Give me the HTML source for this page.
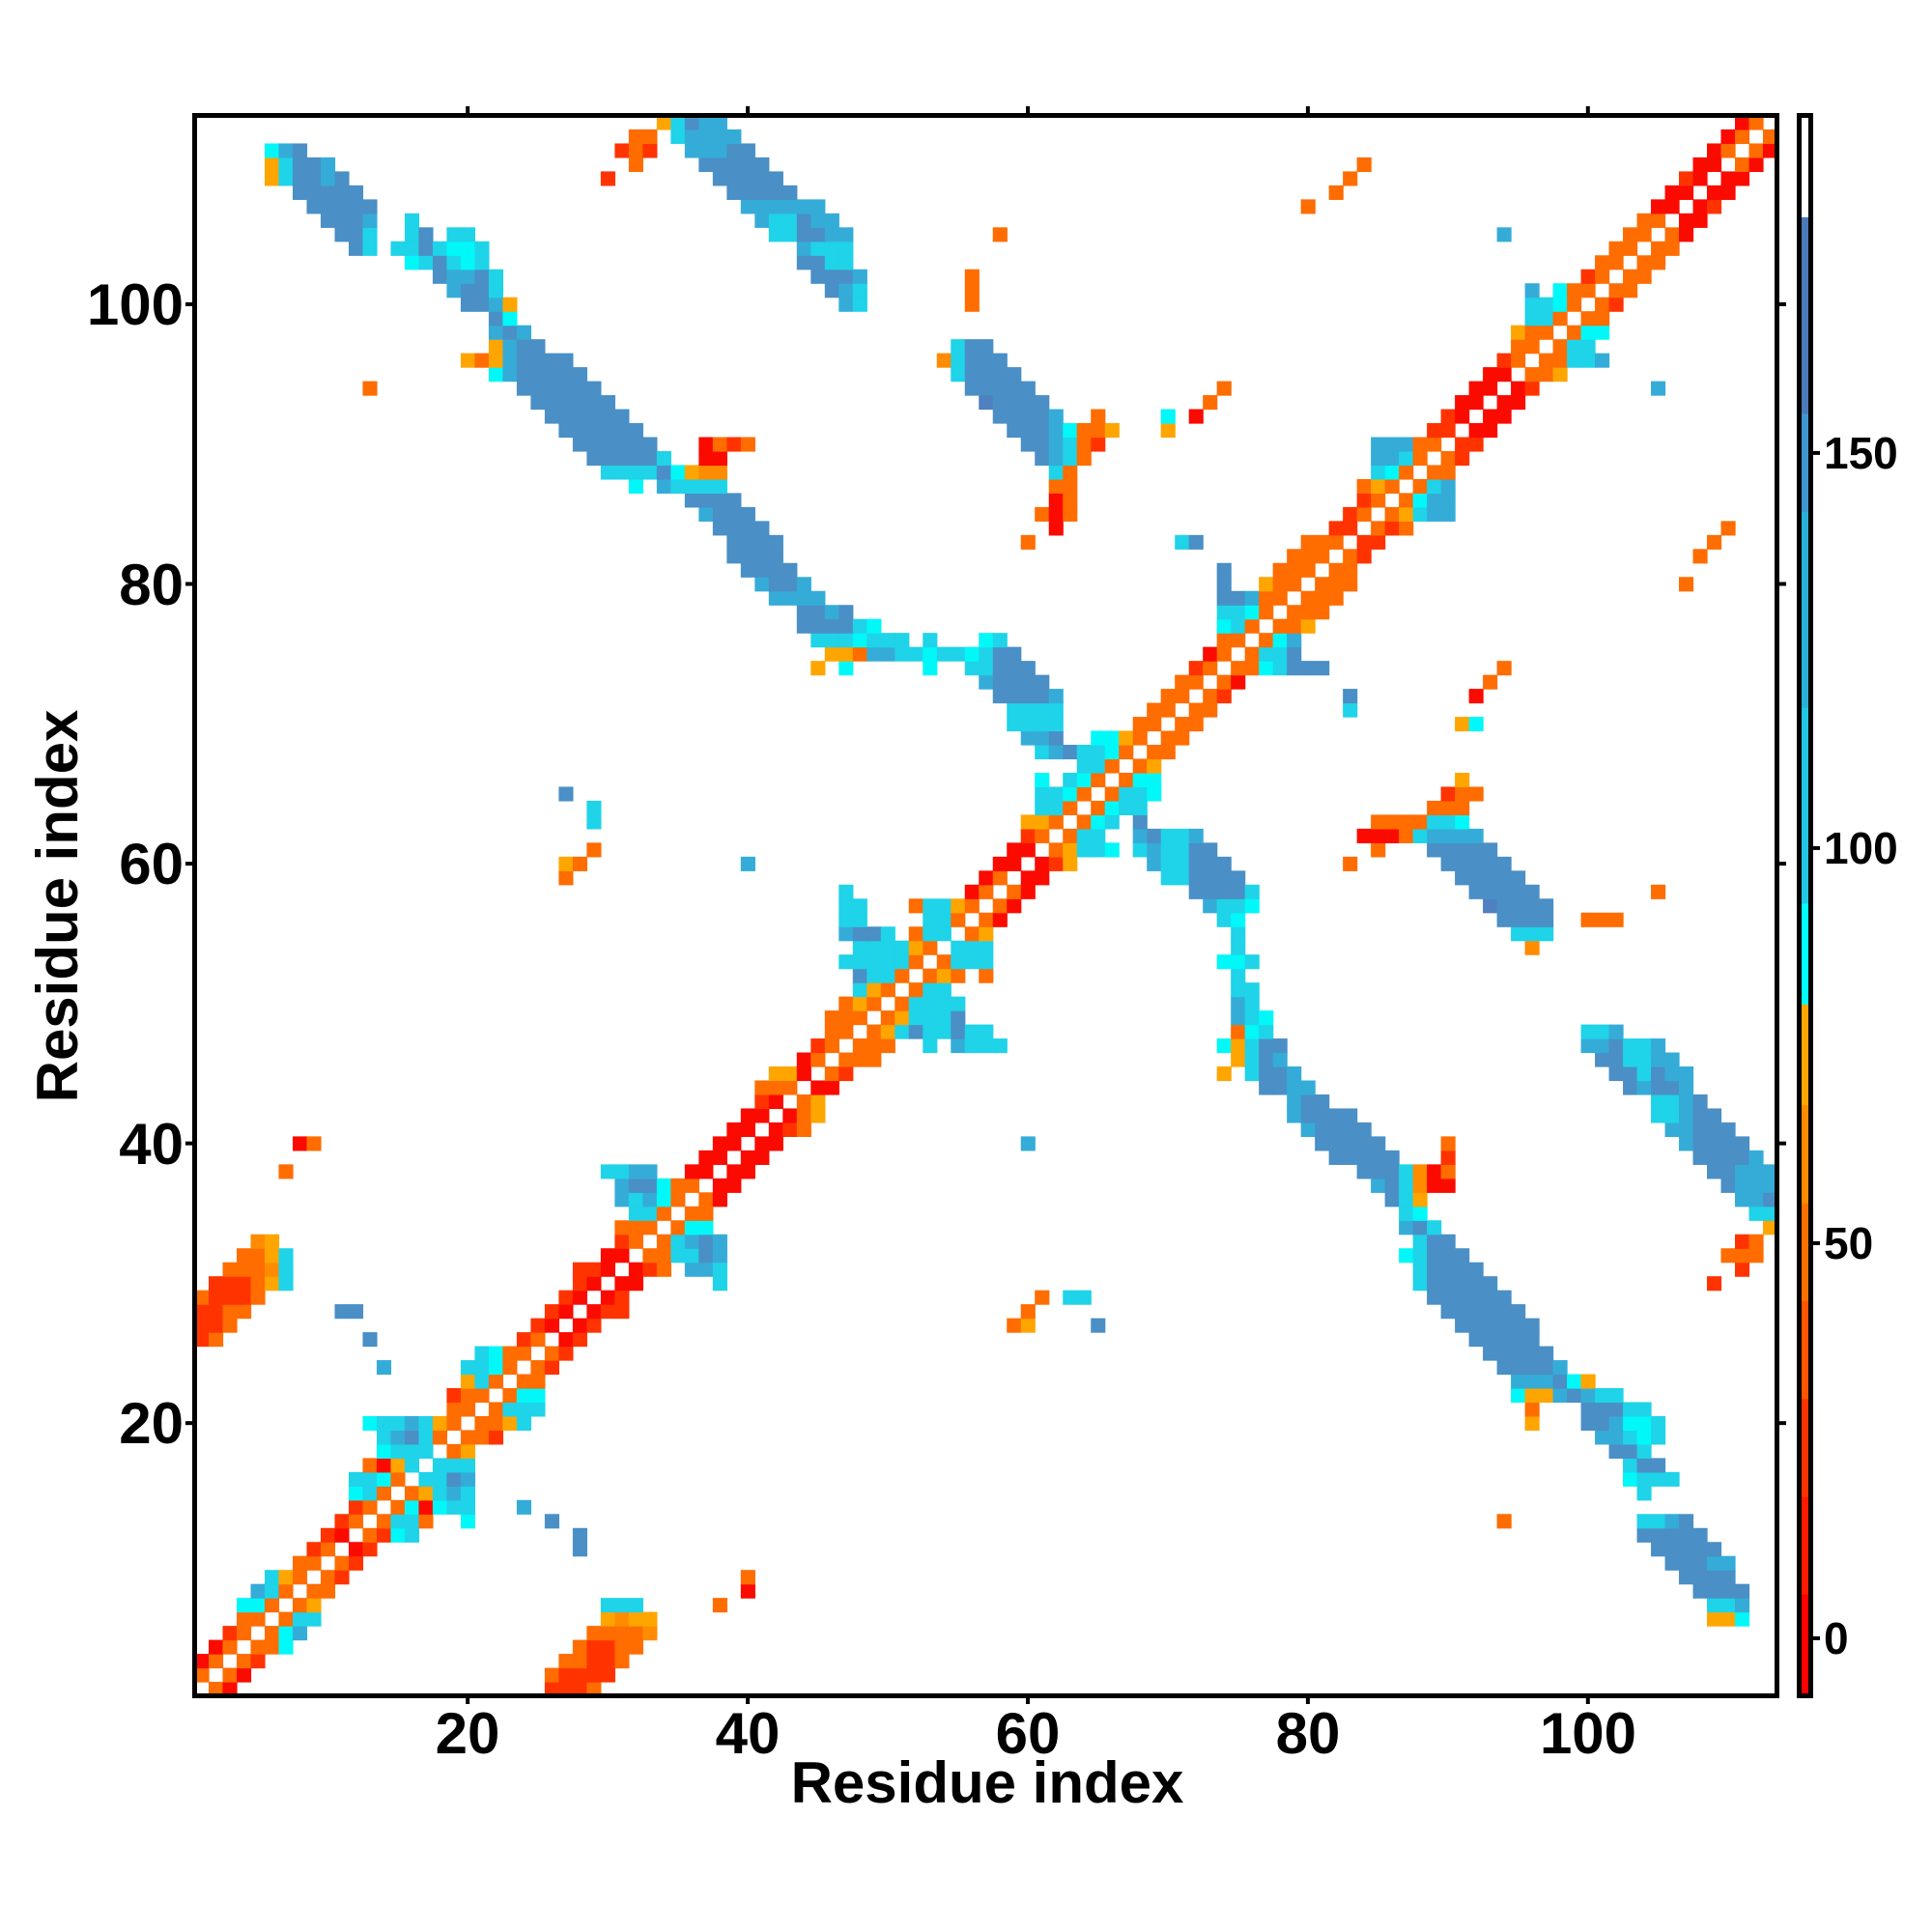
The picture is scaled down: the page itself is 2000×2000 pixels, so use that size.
<!DOCTYPE html>
<html><head><meta charset="utf-8"><style>
html,body{margin:0;padding:0;background:#fff;}
svg{display:block;}
text{font-family:"Liberation Sans",Arial,sans-serif;font-weight:bold;fill:#000;}
</style></head><body>
<svg id="s" width="2000" height="2000" viewBox="0 0 2000 2000" xmlns="http://www.w3.org/2000/svg">
<rect x="0" y="0" width="2000" height="2000" fill="#fff"/>
<g id="cells"></g>
<g id="cbar"></g>
<rect x="1862.5" y="119.5" width="12" height="1636" fill="none" stroke="#000" stroke-width="5"/>
<g stroke="#000" stroke-width="4">
<line x1="1874" y1="1695.9" x2="1884" y2="1695.9"/>
<line x1="1874" y1="1286.9" x2="1884" y2="1286.9"/>
<line x1="1874" y1="877.9" x2="1884" y2="877.9"/>
<line x1="1874" y1="468.9" x2="1884" y2="468.9"/>
</g>
<g font-size="46">
<text x="1888" y="1712">0</text>
<text x="1888" y="1303">50</text>
<text x="1888" y="894">100</text>
<text x="1888" y="485">150</text>
</g>
<rect x="201.5" y="119.5" width="1638" height="1636" fill="none" stroke="#000" stroke-width="5"/>
<g id="ticks" stroke="#000" stroke-width="4"></g>
<g font-size="60" text-anchor="middle">
<text x="484" y="1815">20</text>
<text x="774" y="1815">40</text>
<text x="1064" y="1815">60</text>
<text x="1354" y="1815">80</text>
<text x="1644" y="1815">100</text>
</g>
<g font-size="60" text-anchor="end">
<text x="190" y="1494">20</text>
<text x="190" y="1205">40</text>
<text x="190" y="915">60</text>
<text x="190" y="626">80</text>
<text x="190" y="336">100</text>
</g>
<text x="1022" y="1866" font-size="60" text-anchor="middle">Residue index</text>
<text x="0" y="0" font-size="60" text-anchor="middle" transform="translate(80,938) rotate(-90)">Residue index</text>
</svg>
<script>
var col={R:"#fb0a00",r:"#ff3300",o:"#ff6c00",O:"#ff8c00",Y:"#ffa500",C:"#00f8f8",c:"#1fd3e8",b:"#35acd8",B:"#4a8fc5",D:"#4f80c0"};
var rows={
2:"1:o",3:"1:R 2:o",4:"2:R 3:o",5:"3:r 4:o",6:"4:o 5:o",7:"4:C 5:C 6:o",8:"5:b 6:c 7:o",9:"6:c 7:Y 8:o",
10:"8:o 9:o",11:"9:r 10:o",12:"10:r 11:R",13:"11:r 12:o",14:"12:r 13:o",15:"12:C 13:c 14:o",16:"12:c 13:c 14:C 15:o",
17:"13:o 14:R 15:Y 16:c",18:"14:C 15:c 16:c 17:c",19:"14:c 15:b 16:B 17:c 18:o",20:"13:C 14:c 15:c 16:b 17:c 18:Y 19:o",
21:"19:o 20:o",22:"19:r 20:o 21:o",23:"20:Y 21:c 22:o",24:"14:b 20:c 21:c 22:C 23:o",25:"21:c 22:C 23:o 24:o",
26:"1:r 2:o 13:B 24:r 25:o",27:"1:r 2:r 3:o 25:r 26:R",28:"1:r 2:r 3:o 4:o 11:B 12:B 26:r 27:R",
29:"1:o 2:r 3:r 4:r 5:o 27:r 28:R",30:"2:r 3:r 4:r 5:o 6:Y 7:c 28:r 29:R",31:"3:o 4:o 5:o 6:O 7:c 28:r 29:r 30:R",
32:"4:o 5:o 6:Y 7:c 30:R 31:R",33:"5:O 6:Y 31:r 32:o",34:"31:o 32:o 33:o",35:"32:c 33:c 34:o",
36:"31:b 32:c 33:b 34:C 35:o",37:"31:b 32:B 33:B 34:C 35:o 36:o",38:"7:o 30:c 31:c 32:b 33:b 36:R 37:R",
39:"37:R 38:R",40:"8:R 9:o 38:R 39:R",41:"39:R 40:R",42:"40:R 41:R",43:"41:r 42:R",44:"41:o 42:o 43:o",
45:"42:Y 43:Y 44:R",46:"44:R 45:o",47:"45:r 46:o",48:"46:o 47:o",49:"46:o 47:o 48:o",50:"47:o 48:Y 49:o",
51:"48:c 49:Y 50:o",52:"48:B 49:c 50:c 51:o",53:"47:c 48:c 49:c 50:c 51:c 52:o",54:"48:c 49:c 50:c 51:c 52:Y 53:o",
55:"47:b 48:B 49:B 50:c 52:o 53:c 54:c",56:"47:c 48:c 53:c 54:c 55:o",57:"47:c 48:c 52:o 53:c 54:c 55:Y 56:o",
58:"47:c 56:R 57:o",59:"27:o 57:R 58:o",60:"27:Y 28:o 40:b 58:R 59:R",61:"29:o 59:R 60:R",62:"60:r 61:o",
63:"29:c 60:Y 61:Y 62:o",64:"29:c 61:c 62:c 63:o",65:"27:B 61:c 62:c 63:C 64:o",66:"61:C 63:c 64:C 65:o",
67:"64:c 65:c 66:o",68:"61:c 62:b 63:B 64:c 65:c 66:C 67:o",69:"60:b 61:b 62:B 65:C 66:C 67:Y 68:o",
70:"59:c 60:c 61:c 62:c 68:o 69:o",71:"59:c 60:c 61:c 62:c 69:o 70:o",72:"58:B 59:B 60:B 61:B 62:b 70:o 71:o",
73:"57:b 58:B 59:B 60:B 61:B 71:o 72:o",74:"45:Y 47:C 53:C 56:c 57:c 58:B 59:B 60:B 72:r 73:o",
75:"46:Y 47:Y 48:o 49:b 50:b 51:c 52:c 53:C 54:c 55:c 56:C 57:c 58:B 59:B 73:R 74:o",
76:"45:c 46:c 47:c 48:C 49:c 50:c 51:c 53:c 57:C 58:c 74:o 75:o",
77:"44:B 45:B 46:B 47:B 48:c 49:C 74:C 75:c 76:o",78:"44:B 45:B 46:b 47:B 74:c 75:c 76:C 77:o",
79:"42:b 43:b 44:b 45:b 74:B 75:B 76:b 77:o 78:o",80:"41:b 42:B 43:B 44:b 74:B 77:Y 78:o 79:o",
81:"40:B 41:B 42:B 43:B 74:B 78:o 79:o 80:o",82:"39:B 40:B 41:B 42:B 79:o 80:o 81:o",
83:"39:B 40:B 41:B 42:B 60:o 71:c 72:B 80:o 81:o 82:o",84:"38:B 39:B 40:B 41:B 62:R 82:r 83:r",
85:"37:b 38:B 39:B 40:B 61:o 62:R 63:o 83:r 84:o",86:"36:B 37:B 38:B 39:B 62:R 63:o 84:r 85:o",
87:"32:C 34:b 35:c 36:c 37:c 38:c 62:o 63:o 84:o 85:Y 86:o",
88:"30:c 31:c 32:c 33:c 34:B 35:C 36:Y 37:O 38:O 62:c 63:o 85:c 86:C 87:o",
89:"29:B 30:B 31:B 32:B 33:B 34:c 37:R 38:R 61:B 62:b 63:c 64:o 85:b 86:b 87:c 88:o",
90:"28:B 29:B 30:B 31:B 32:B 33:B 37:R 38:o 39:r 40:o 60:B 61:B 62:b 63:c 64:o 65:r 85:b 86:b 87:b 88:o 89:o",
91:"27:B 28:B 29:B 30:B 31:B 32:B 59:B 60:B 61:B 62:b 63:C 64:o 65:o 66:Y 70:Y 89:r 90:r",
92:"26:B 27:B 28:B 29:B 30:B 31:B 58:B 59:B 60:B 61:B 62:b 65:o 70:C 72:R 90:r 91:R",
93:"25:B 26:B 27:B 28:B 29:B 30:B 57:D 58:B 59:B 60:B 61:B 73:o 91:R 92:R",
94:"13:o 24:B 25:B 26:B 27:B 28:B 29:B 56:B 57:B 58:B 59:B 60:B 74:o 92:R 93:R",
95:"22:C 23:b 24:B 25:B 26:B 27:B 28:B 55:c 56:B 57:B 58:B 59:B 93:R 94:R",
96:"20:Y 21:o 22:Y 23:b 24:B 25:B 26:B 27:B 54:O 55:c 56:B 57:B 58:B 94:r 95:o",
97:"22:Y 23:b 24:B 25:B 55:c 56:B 57:B 95:o 96:o",98:"22:b 23:B 24:b 95:Y 96:o 97:o",99:"22:B 23:C 96:c 97:c 98:o",
100:"20:B 21:B 22:b 23:Y 47:b 48:c 56:o 96:c 97:c 98:C 99:o",
101:"19:b 20:B 21:B 22:c 46:B 47:b 48:c 56:o 96:b 98:C 99:o 100:o",
102:"18:B 19:b 20:b 21:B 22:c 45:B 46:B 47:B 48:b 56:o 100:r 101:o",
103:"16:C 17:c 18:B 19:c 20:C 21:c 44:B 45:B 46:c 47:c 101:o 102:o",
104:"12:B 13:c 15:c 16:c 17:B 18:c 19:C 20:C 21:c 44:b 45:c 46:c 47:c 102:o 103:o",
105:"11:B 12:B 13:c 16:c 17:B 19:c 20:c 42:c 43:c 44:B 45:B 46:b 47:b 58:o 94:b 103:o 104:o",
106:"10:B 11:B 12:B 13:b 16:c 41:b 42:c 43:c 44:B 45:b 46:b 104:o 105:o",
107:"9:B 10:B 11:B 12:B 13:B 40:b 41:b 42:b 43:b 44:b 45:b 80:o 105:R 106:R",
108:"8:B 9:B 10:B 11:B 12:B 39:B 40:B 41:B 42:B 43:B 82:o 106:R 107:R",
109:"6:Y 7:c 8:B 9:B 10:b 11:B 30:r 38:B 39:B 40:B 41:B 42:B 83:o 107:r 108:R",
110:"6:Y 7:c 8:B 9:B 10:b 32:o 37:B 38:B 39:B 40:B 41:B 84:o 108:R 109:R",
111:"6:C 7:b 8:B 31:r 32:o 33:r 36:b 37:b 38:b 39:B 40:B 109:R 110:o",
112:"32:o 33:o 35:c 36:b 37:b 38:b 39:b 110:R 111:o",
113:"34:Y 35:c 36:B 37:b 38:b 111:R 112:o"
};
var x0=201.5,y0=119.5,sx=1638/113,sy=1636/113;
var h="";
function cell(i,j,c){var x=x0+(i-1)*sx,y=y0+(113-j)*sy;
h+='<rect x="'+x.toFixed(2)+'" y="'+y.toFixed(2)+'" width="'+(sx+0.6).toFixed(2)+'" height="'+(sy+0.6).toFixed(2)+'" fill="'+col[c]+'"/>';}
for(var j in rows){var parts=rows[j].split(" ");for(var k=0;k<parts.length;k++){var p=parts[k].split(":");var i=+p[0];var jj=+j;cell(i,jj,p[1]);cell(jj,i,p[1]);}}
document.getElementById("cells").innerHTML=h;
var segs=[[121.5,224.9,"#ffffff"],[224.9,428.6,"#4a7ab8"],[428.6,530,"#3f97cf"],[530,732.7,"#2ab0d8"],[732.7,935.5,"#22c8e2"],[935.5,1039.9,"#00ffff"],[1039.9,1144.2,"#ffa500"],[1144.2,1245.6,"#ff8c00"],[1245.6,1346.9,"#ff7000"],[1346.9,1448.3,"#ff5500"],[1448.3,1549.7,"#ff3300"],[1549.7,1650.9,"#ff1a00"],[1650.9,1755.3,"#ff0000"]];
var cb="";for(var q=0;q<segs.length;q++){cb+='<rect x="1862.5" y="'+segs[q][0]+'" width="12" height="'+(segs[q][1]-segs[q][0]+0.5)+'" fill="'+segs[q][2]+'"/>';}
document.getElementById("cbar").innerHTML=cb;
var t="",vals=[20,40,60,80,100];
for(var q=0;q<vals.length;q++){var v=vals[q];var x=x0+(v-0.5)*sx,y=1755.5-(v-0.5)*sy;
t+='<line x1="'+x+'" y1="1755" x2="'+x+'" y2="1764"/>';
t+='<line x1="'+x+'" y1="119.5" x2="'+x+'" y2="110"/>';
t+='<line x1="201.5" y1="'+y+'" x2="192" y2="'+y+'"/>';
t+='<line x1="1839.5" y1="'+y+'" x2="1849" y2="'+y+'"/>';}
document.getElementById("ticks").innerHTML=t;
</script>
</body></html>
